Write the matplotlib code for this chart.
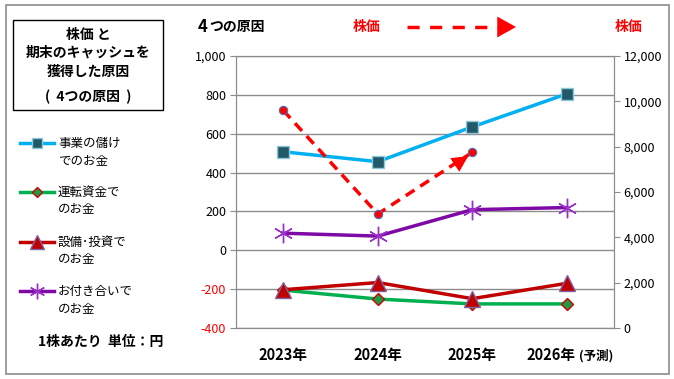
import matplotlib.pyplot as plt
from matplotlib.lines import Line2D
from matplotlib.patches import Rectangle
from matplotlib.ticker import FuncFormatter
import numpy as np

plt.rcParams['font.family'] = ['Noto Sans CJK JP', 'DejaVu Sans']

years = ['2023年', '2024年', '2025年', '2026年']
business = [507, 456, 635, 805]       # 事業の儲けでのお金
working = [-205, -251, -276, -276]    # 運転資金でのお金
invest = [-203, -166, -249, -170]     # 設備・投資でのお金
partner = [88, 73, 209, 220]          # お付き合いでのお金
price = [9600, 5030, 7750]            # 株価 (右軸)

series = [
    ('事業の儲け\nでのお金', business, dict(color='#00B0F0', marker='s', ms=9, mfc='#215968', mec='#8FC8DC', mew=1)),
    ('運転資金で\nのお金', working, dict(color='#00B050', marker='D', ms=6, mfc='#1F9A45', mec='#D00000', mew=1)),
    ('設備･投資で\nのお金', invest, dict(color='#C00000', marker='^', ms=12, mfc='#C00000', mec='#8064A2', mew=1)),
    ('お付き合いで\nのお金', partner, dict(color='#7E0AA6', marker=(6, 2, 0), ms=14, mfc='#9B30C8', mec='#9B30C8', mew=1)),
]

W, H = 674, 379
fig = plt.figure(figsize=(W / 100, H / 100), dpi=100)

ax = fig.add_axes([236 / W, 1 - 328 / H, (614 - 236) / W, (328 - 56) / H])
x = np.arange(len(years))
for name, vals, st in series:
    ax.plot(x, vals, lw=2.5, zorder=3, **st)

ax.set_xlim(-0.5, 3.5)
ax.set_ylim(-400, 1000)
ax.set_yticks(np.arange(-400, 1001, 200))
ax.yaxis.set_major_formatter(FuncFormatter(lambda v, p: f'{int(v):,}'))
ax.grid(axis='y', color='#8c8c8c', lw=1)
ax.set_axisbelow(True)
for s in ax.spines.values():
    s.set_color('#8c8c8c')
ax.tick_params(axis='y', length=4, color='#8c8c8c', labelsize=9, pad=3)
ax.tick_params(axis='x', length=0, labelsize=10.5, pad=14)
for lab in ax.get_yticklabels():
    if lab.get_text().startswith('-') or lab.get_text().startswith('\u2212'):
        lab.set_color('red')
ax.set_xticks(x)
ax.set_xticklabels(years[:3] + [''], fontweight='bold')
ax.annotate(years[3], xy=(3, 0), xycoords=('data', 'axes fraction'), xytext=(6.5, -14),
            textcoords='offset points', ha='right', va='top', fontsize=10.5, fontweight='bold')
ax.annotate('(予測)', xy=(3, 0), xycoords=('data', 'axes fraction'), xytext=(9, -15.5),
            textcoords='offset points', ha='left', va='top', fontsize=9, fontweight='bold')

ax2 = ax.twinx()
ax2.plot(x[:3], price, color='red', lw=2.5, ls=(0, (3, 2)), marker='o', ms=6,
         mfc='red', mec='#4472C4', mew=0.8, zorder=4)
ax2.annotate('', xy=(x[2] - 0.042, price[2] - 160), xytext=(x[2] - 0.2, price[2] - 600),
             arrowprops=dict(arrowstyle='-|>,head_length=0.9,head_width=0.45', color='red',
                             lw=0, mutation_scale=13, shrinkA=0, shrinkB=0))
ax2.set_ylim(0, 12000)
ax2.set_yticks(np.arange(0, 12001, 2000))
ax2.yaxis.set_major_formatter(FuncFormatter(lambda v, p: f'{int(v):,}'))
ax2.tick_params(axis='y', length=4, color='#8c8c8c', labelsize=9, pad=3)
for s in ax2.spines.values():
    s.set_color('#8c8c8c')

# overlay in pixel coordinates for frames, legend and notes
ov = fig.add_axes([0, 0, 1, 1], zorder=-1)
ov.set_xlim(0, W)
ov.set_ylim(H, 0)
ov.axis('off')
ov.add_patch(Rectangle((6, 5), 663, 369, fill=False, ec='#8c8c8c', lw=1.2))
ov.add_patch(Rectangle((13, 20), 150, 90, fill=False, ec='black', lw=1))
ov.text(88, 35, '株価 と', ha='center', va='center', fontsize=10, fontweight='bold')
ov.text(88, 53, '期末のキャッシュを', ha='center', va='center', fontsize=10, fontweight='bold')
ov.text(88, 72, '獲得した原因', ha='center', va='center', fontsize=10, fontweight='bold')
ov.text(88, 97, '(  4つの原因  )', ha='center', va='center', fontsize=10, fontweight='bold')

legend_y = [143, 192, 242, 291]
for (name, vals, st), ly in zip(series, legend_y):
    ov.add_line(Line2D([20, 54], [ly, ly], lw=2.5, color=st['color']))
    ms = st['ms'] * 0.8
    ov.add_line(Line2D([37], [ly], marker=st['marker'], ms=ms, mfc=st['mfc'],
                       mec=st['mec'], mew=st['mew'], color=st['color']))
    l1, l2 = name.split('\n')
    ov.text(58, ly, l1, ha='left', va='center', fontsize=9)
    ov.text(58, ly + 18, l2, ha='left', va='center', fontsize=9)

ov.text(38, 342, '1株あたり  単位：円', ha='left', va='center', fontsize=10, fontweight='bold')
ov.text(198, 27, '4', ha='left', va='center', fontsize=12, fontweight='bold')
ov.text(209, 27, 'つの原因', ha='left', va='center', fontsize=10, fontweight='bold')
ov.text(353, 27, '株価', ha='left', va='center', fontsize=10, fontweight='bold', color='red')
ov.text(615, 27, '株価', ha='left', va='center', fontsize=10, fontweight='bold', color='red')
ov.add_line(Line2D([407, 500], [27, 27], lw=2.5, color='red', ls=(0, (3.5, 3))))
ov.annotate('', xy=(516, 27), xytext=(499, 27),
            arrowprops=dict(arrowstyle='-|>,head_length=0.9,head_width=0.5', color='red',
                            lw=0, mutation_scale=15, shrinkA=0, shrinkB=0))

fig.savefig('out.png', dpi=100)
